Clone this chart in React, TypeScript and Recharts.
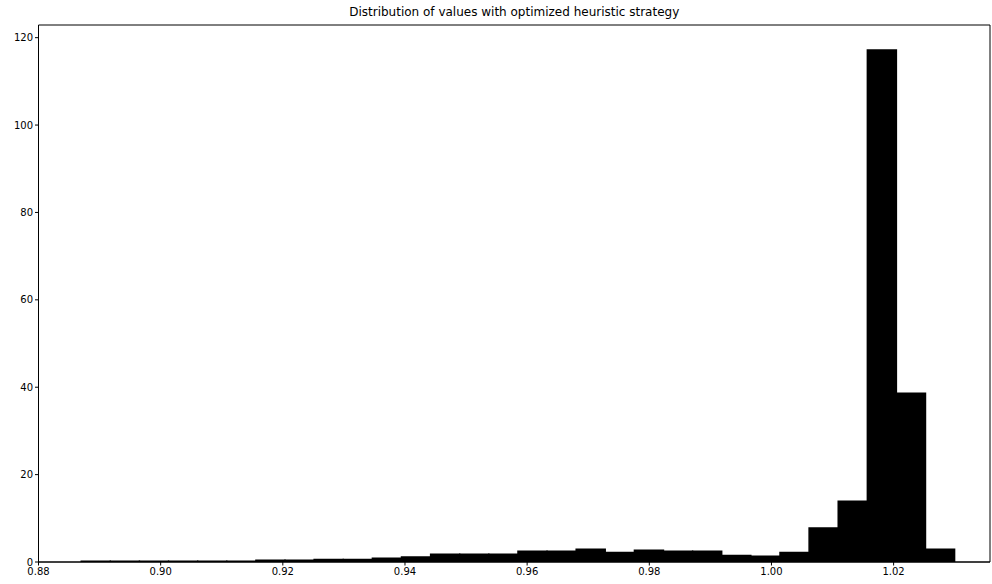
import { ComposedChart, Bar, XAxis, YAxis, ReferenceArea } from "recharts";

// histogram bin edges (31) and density per bin (30)
const binEdges = [
  0.887, 0.89177, 0.89653, 0.9013, 0.90607, 0.91083, 0.9156, 0.92037, 0.92513, 0.9299,
  0.93467, 0.93943, 0.9442, 0.94897, 0.95373, 0.9585, 0.96327, 0.96803, 0.9728, 0.97757,
  0.98233, 0.9871, 0.99187, 0.99663, 1.0014, 1.00617, 1.01093, 1.0157, 1.02047, 1.02523,
  1.03,
];
const density = [
  0.2, 0.2, 0.2, 0.2, 0.2, 0.2, 0.4, 0.4, 0.6, 0.6,
  0.85, 1.15, 1.75, 1.75, 1.75, 2.45, 2.45, 2.9, 2.15, 2.7,
  2.45, 2.45, 1.5, 1.3, 2.2, 7.8, 13.9, 117.2, 38.6, 2.9,
];
const xTicks = [0.88, 0.9, 0.92, 0.94, 0.96, 0.98, 1.0, 1.02];
const yTicks = [0, 20, 40, 60, 80, 100, 120];
const title = "Distribution of values with optimized heuristic strategy";

const xDomain: [number, number] = [0.88, 1.03578];
const yDomain: [number, number] = [0, 122.9];

const data = density.map((d, i) => ({
  center: (binEdges[i] + binEdges[i + 1]) / 2,
  density: d,
}));

const tickStyle = { fill: "#000", fontSize: 10 };

export default function App() {
  return (
    <div
      style={{
        position: "absolute",
        left: 0,
        top: 0,
        width: 992,
        height: 584,
        background: "#fff",
        fontFamily: "'DejaVu Sans', sans-serif",
      }}
    >
      <div
        style={{
          position: "absolute",
          left: 38.5,
          width: 951.5,
          top: 5,
          textAlign: "center",
          fontSize: 12,
          color: "#000",
        }}
      >
        {title}
      </div>
      <ComposedChart
        width={992}
        height={584}
        data={data}
        margin={{ top: 25, right: 2, bottom: 0, left: 0 }}
        barCategoryGap={0}
        barGap={0}
      >
        <XAxis
          dataKey="center"
          type="number"
          domain={xDomain}
          allowDataOverflow
          ticks={xTicks}
          interval={0}
          tickFormatter={(v: number) => v.toFixed(2)}
          tickSize={3.5}
          tickMargin={2}
          height={22}
          tick={tickStyle}
          tickLine={{ stroke: "#000" }}
          axisLine={{ stroke: "#000" }}
        />
        <YAxis
          type="number"
          domain={yDomain}
          allowDataOverflow
          ticks={yTicks}
          interval={0}
          tickSize={3.5}
          tickMargin={2}
          width={38.5}
          tick={tickStyle}
          tickLine={{ stroke: "#000" }}
          axisLine={{ stroke: "#000" }}
        />
        <Bar
          dataKey="density"
          fill="#000"
          stroke="#000"
          strokeWidth={1.5}
          isAnimationActive={false}
        />
        {/* axes frame (top and right spines) */}
        <ReferenceArea
          x1={xDomain[0]}
          x2={xDomain[1]}
          y1={yDomain[0]}
          y2={yDomain[1]}
          fill="none"
          fillOpacity={0}
          stroke="#000"
          strokeWidth={1}
          strokeOpacity={1}
        />
      </ComposedChart>
    </div>
  );
}
